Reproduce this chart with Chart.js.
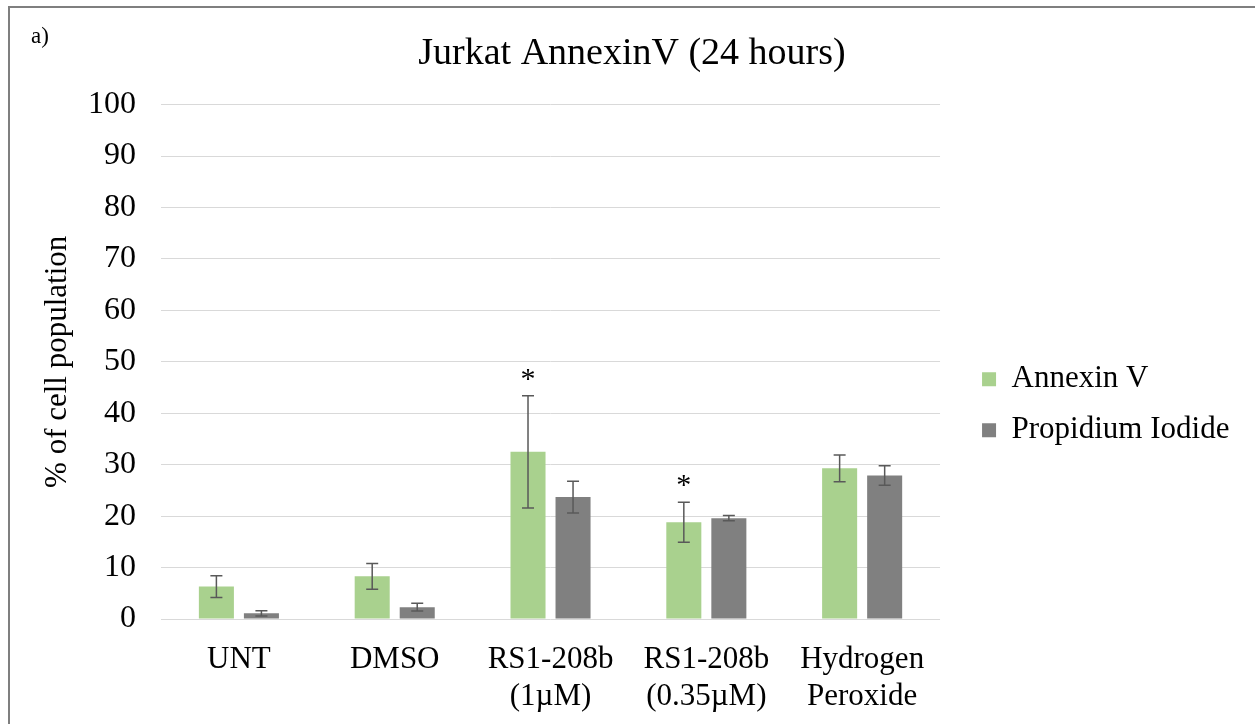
<!DOCTYPE html>
<html>
<head>
<meta charset="utf-8">
<script src="https://cdn.jsdelivr.net/npm/chart.js@4.4.0/dist/chart.umd.min.js"></script>
<style>
  body { margin: 0; background: #fff; overflow: hidden; }
  #frame { position: absolute; left: 8px; top: 6px; width: 1400px; height: 900px;
           border-left: 2px solid #7f7f7f; border-top: 2px solid #7f7f7f; pointer-events: none; }
  #panel { position: absolute; left: 31px; top: 24px; font: 23px 'Liberation Serif'; line-height: 23px; color: #000; }
  canvas { position: absolute; left: 0; top: 0; }
</style>
</head>
<body>
<canvas id="annexinChart" width="1255" height="750"></canvas>
<div id="frame"></div>
<div id="panel">a)</div>
<script>
// Группы обработки
const categories = ['UNT', 'DMSO', ['RS1-208b', '(1µM)'], ['RS1-208b', '(0.35µM)'], ['Hydrogen', 'Peroxide']];

// % клеток, среднее и отклонение
const annexinValues = [6.3, 8.3, 32.5, 18.8, 29.3];
const annexinErrors = [2.1, 2.5, 10.9, 3.9, 2.6];
const piValues = [1.1, 2.3, 23.7, 19.6, 27.9];
const piErrors = [0.5, 0.75, 3.1, 0.5, 1.9];

// Где значимо (звёздочка над Annexin V)
const annexinSignificant = [false, false, true, true, false];

const yTicks = [0, 10, 20, 30, 40, 50, 60, 70, 80, 90, 100];

Chart.defaults.font.family = 'Liberation Serif';
Chart.defaults.color = '#000';

// Планки погрешностей и звёздочки
const errorBars = {
    id: 'errorBars',
    afterDatasetsDraw(chart) {
        const ctx = chart.ctx;
        const y = chart.scales.y;
        ctx.save();
        chart.data.datasets.forEach((ds, di) => {
            const meta = chart.getDatasetMeta(di);
            meta.data.forEach((bar, i) => {
                const v = ds.data[i];
                const e = ds.errors[i];
                const top = y.getPixelForValue(v + e);
                const bottom = y.getPixelForValue(v - e);
                ctx.strokeStyle = '#595959';
                ctx.lineWidth = 1.5;
                ctx.beginPath();
                ctx.moveTo(bar.x, top);
                ctx.lineTo(bar.x, bottom);
                ctx.moveTo(bar.x - 6, top);
                ctx.lineTo(bar.x + 6, top);
                ctx.moveTo(bar.x - 6, bottom);
                ctx.lineTo(bar.x + 6, bottom);
                ctx.stroke();
                if (ds.significant && ds.significant[i]) {
                    ctx.fillStyle = '#000';
                    ctx.font = "30px 'Liberation Serif'";
                    ctx.textAlign = 'center';
                    ctx.textBaseline = 'middle';
                    ctx.fillText('*', bar.x, top - 16);
                }
            });
        });
        ctx.restore();
    }
};

const ctx = document.getElementById('annexinChart').getContext('2d');
new Chart(ctx, {
    type: 'bar',
    data: {
        labels: categories,
        datasets: [{
            label: 'Annexin V',
            data: annexinValues,
            errors: annexinErrors,
            significant: annexinSignificant,
            backgroundColor: '#a9d18e',
            categoryPercentage: 0.578,
            barPercentage: 0.778
        }, {
            label: 'Propidium Iodide',
            data: piValues,
            errors: piErrors,
            backgroundColor: '#808080',
            categoryPercentage: 0.578,
            barPercentage: 0.778
        }]
    },
    options: {
        responsive: false,
        animation: false,
        layout: { padding: { left: 24.6, right: 15.6, top: 0, bottom: 20.6 } },
        plugins: {
            title: {
                display: true,
                text: 'Jurkat AnnexinV (24 hours)',
                font: { size: 38, weight: 'normal' },
                color: '#000',
                padding: { top: 31, bottom: 28 }
            },
            legend: {
                position: 'right',
                maxWidth: 320,
                title: { display: true, text: '', font: { size: 10 }, padding: { top: 0, bottom: 68 } },
                labels: {
                    boxWidth: 14,
                    boxHeight: 14,
                    padding: 20,
                    font: { size: 31 },
                    color: '#000'
                }
            },
            tooltip: { enabled: false }
        },
        scales: {
            x: {
                grid: { display: false },
                border: { display: false },
                ticks: { font: { size: 31 }, padding: 14, maxRotation: 0, autoSkip: false }
            },
            y: {
                min: 0,
                max: 100,
                afterBuildTicks(scale) {
                    scale.ticks = yTicks.map(v => ({ value: v }));
                },
                grid: { color: '#d9d9d9', lineWidth: 1, drawTicks: false },
                border: { display: false },
                ticks: { font: { size: 32 }, padding: 25 },
                title: {
                    display: true,
                    text: '% of cell population',
                    font: { size: 31 },
                    color: '#000',
                    padding: { top: 14.8, bottom: -13.6 }
                }
            },
            // пустой отступ между графиком и легендой
            gap: {
                type: 'linear',
                position: 'right',
                grid: { display: false },
                border: { display: false },
                ticks: { display: false },
                afterFit(scale) { scale.width = 22; }
            }
        }
    },
    plugins: [errorBars]
});
</script>
</body>
</html>
